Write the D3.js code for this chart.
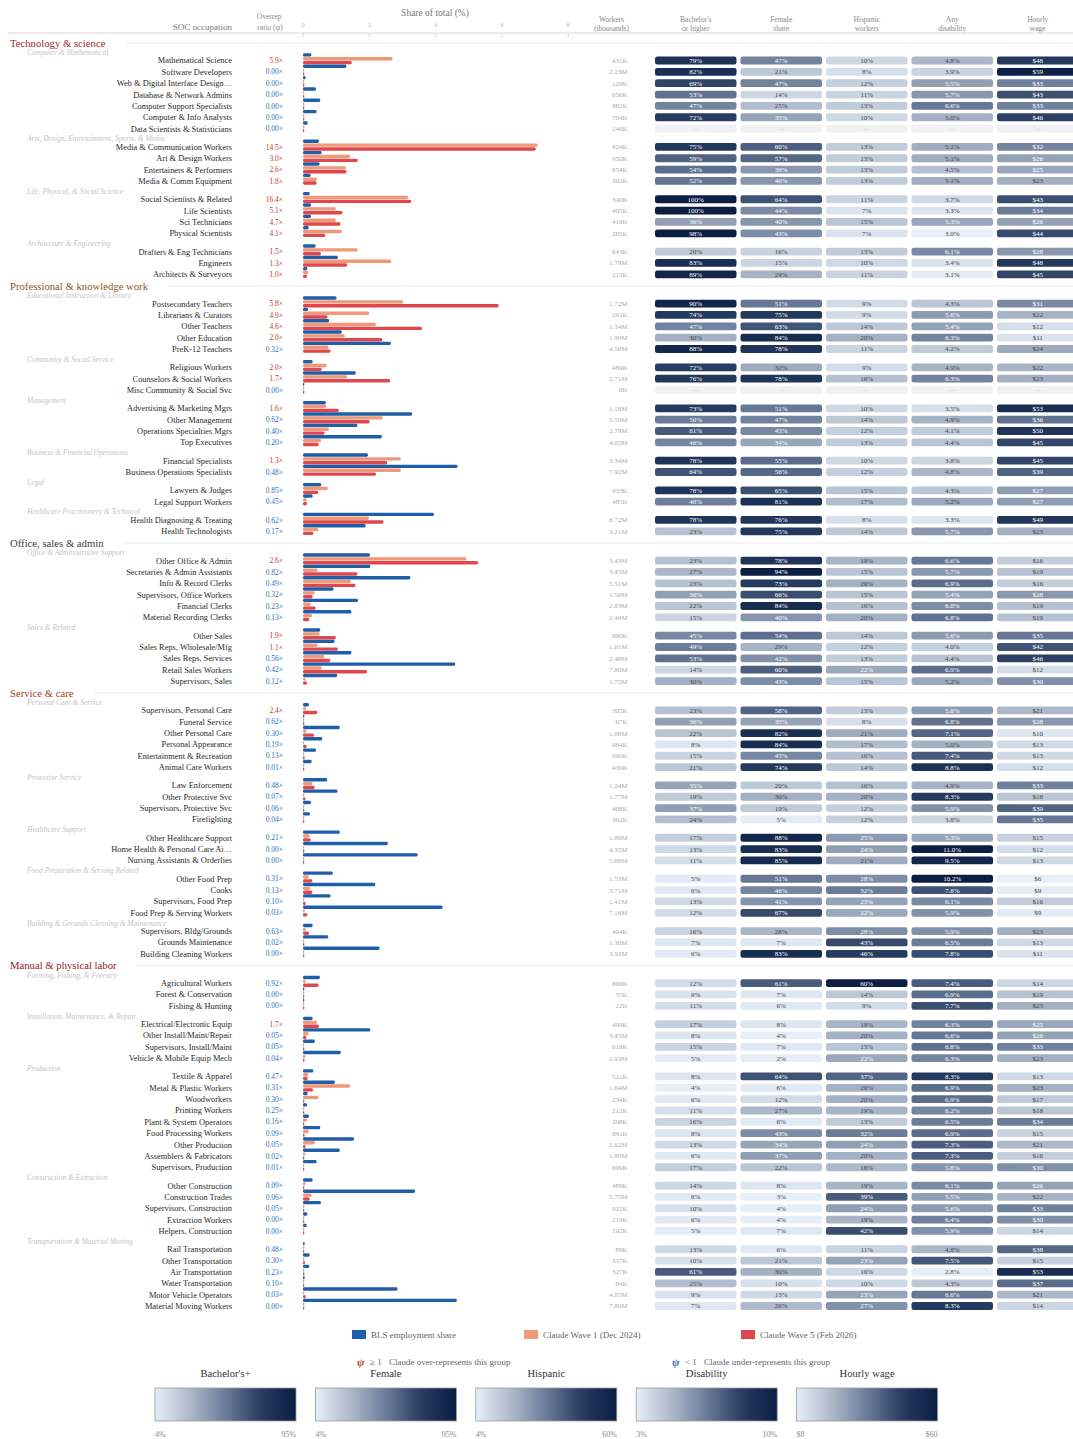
<!DOCTYPE html>
<html>
<head>
<meta charset="utf-8">
<script src="https://cdn.jsdelivr.net/npm/d3@7"></script>
<style>
    body { margin: 0; background: #fff; }
    svg { display: block; font-family: "Liberation Serif", "Times New Roman", serif; }
</style>
</head>
<body>
<svg id="chart" width="1073" height="1439"></svg>
<script>
// ---- data -------------------------------------------------------------
var sections = [ "Technology & science", "Professional & knowledge work",
    "Office, sales & admin", "Service & care", "Manual & physical labor" ];

var subgroups = [ "Computer & Mathematical", "Arts, Design, Entertainment, Sports, & Media",
    "Life, Physical, & Social Science", "Architecture & Engineering",
    "Educational Instruction & Library", "Community & Social Service", "Management",
    "Business & Financial Operations", "Legal", "Healthcare Practitioners & Technical",
    "Office & Administrative Support", "Sales & Related",
    "Personal Care & Service", "Protective Service", "Healthcare Support",
    "Food Preparation & Serving Related", "Building & Grounds Cleaning & Maintenance",
    "Farming, Fishing, & Forestry", "Installation, Maintenance, & Repair", "Production",
    "Construction & Extraction", "Transportation & Material Moving" ];
var subgroupSection = [ 0, 0, 0, 0, 1, 1, 1, 1, 1, 1, 2, 2, 3, 3, 3, 3, 3, 4, 4, 4, 4, 4 ];
var subgroupSize = [ 7, 4, 4, 3, 5, 3, 4, 2, 2, 2, 6, 5, 6, 4, 3, 4, 3, 3, 4, 9, 5, 6 ];

var occupations = [
    "Mathematical Science", "Software Developers", "Web & Digital Interface Design\u2026",
    "Database & Network Admins", "Computer Support Specialists", "Computer & Info Analysts",
    "Data Scientists & Statisticians",
    "Media & Communication Workers", "Art & Design Workers", "Entertainers & Performers", "Media & Comm Equipment",
    "Social Scientists & Related", "Life Scientists", "Sci Technicians", "Physical Scientists",
    "Drafters & Eng Technicians", "Engineers", "Architects & Surveyors",
    "Postsecondary Teachers", "Librarians & Curators", "Other Teachers", "Other Education", "PreK-12 Teachers",
    "Religious Workers", "Counselors & Social Workers", "Misc Community & Social Svc",
    "Advertising & Marketing Mgrs", "Other Management", "Operations Specialties Mgrs", "Top Executives",
    "Financial Specialists", "Business Operations Specialists",
    "Lawyers & Judges", "Legal Support Workers",
    "Health Diagnosing & Treating", "Health Technologists",
    "Other Office & Admin", "Secretaries & Admin Assistants", "Info & Record Clerks",
    "Supervisors, Office Workers", "Financial Clerks", "Material Recording Clerks",
    "Other Sales", "Sales Reps, Wholesale/Mfg", "Sales Reps, Services", "Retail Sales Workers", "Supervisors, Sales",
    "Supervisors, Personal Care", "Funeral Service", "Other Personal Care", "Personal Appearance",
    "Entertainment & Recreation", "Animal Care Workers",
    "Law Enforcement", "Other Protective Svc", "Supervisors, Protective Svc", "Firefighting",
    "Other Healthcare Support", "Home Health & Personal Care Ai\u2026", "Nursing Assistants & Orderlies",
    "Other Food Prep", "Cooks", "Supervisors, Food Prep", "Food Prep & Serving Workers",
    "Supervisors, Bldg/Grounds", "Grounds Maintenance", "Building Cleaning Workers",
    "Agricultural Workers", "Forest & Conservation", "Fishing & Hunting",
    "Electrical/Electronic Equip", "Other Install/Maint/Repair", "Supervisors, Install/Maint", "Vehicle & Mobile Equip Mech",
    "Textile & Apparel", "Metal & Plastic Workers", "Woodworkers", "Printing Workers", "Plant & System Operators",
    "Food Processing Workers", "Other Production", "Assemblers & Fabricators", "Supervisors, Production",
    "Other Construction", "Construction Trades", "Supervisors, Construction", "Extraction Workers", "Helpers, Construction",
    "Rail Transportation", "Other Transportation", "Air Transportation", "Water Transportation",
    "Motor Vehicle Operators", "Material Moving Workers" ];

var ratio = [ 5.9, 0, 0, 0, 0, 0, 0,  14.5, 3.0, 2.6, 1.8,  16.4, 5.1, 4.7, 4.1,  1.5, 1.3, 1.0,
    5.8, 4.9, 4.6, 2.0, 0.32,  2.0, 1.7, 0,  1.6, 0.62, 0.40, 0.20,  1.3, 0.48,  0.85, 0.45,  0.62, 0.17,
    2.6, 0.82, 0.49, 0.32, 0.23, 0.13,  1.9, 1.1, 0.56, 0.42, 0.12,
    2.4, 0.62, 0.30, 0.19, 0.13, 0.01,  0.48, 0.07, 0.06, 0.04,  0.21, 0, 0,  0.31, 0.13, 0.10, 0.03,  0.63, 0.02, 0,
    0.92, 0, 0,  1.7, 0.05, 0.05, 0.04,  0.47, 0.31, 0.30, 0.25, 0.16, 0.09, 0.05, 0.02, 0.01,
    0.09, 0.06, 0.05, 0, 0,  0.48, 0.30, 0.23, 0.10, 0.03, 0 ];

var workers = [ "431K", "2.23M", "129K", "656K", "882K", "704K", "246K",  "824K", "950K", "854K", "392K",
    "340K", "405K", "416K", "285K",  "643K", "1.79M", "215K",
    "1.72M", "261K", "1.34M", "1.99M", "4.50M",  "489K", "2.71M", "0K",  "1.18M", "5.59M", "2.79M", "4.05M",
    "3.34M", "7.92M",  "933K", "485K",  "6.72M", "3.21M",
    "3.43M", "3.45M", "5.51M", "1.56M", "2.83M", "2.49M",  "890K", "1.61M", "2.48M", "7.80M", "1.75M",
    "305K", "67K", "1.88M", "984K", "660K", "439K",  "1.24M", "1.77M", "408K", "362K",  "1.89M", "4.35M", "5.88M",
    "1.53M", "3.71M", "1.41M", "7.16M",  "494K", "1.30M", "3.92M",
    "866K", "55K", "22K",  "499K", "3.45M", "618K", "1.93M",
    "521K", "1.64M", "234K", "212K", "298K", "891K", "2.62M", "1.89M", "699K",
    "489K", "5.75M", "922K", "219K", "192K",  "89K", "337K", "327K", "84K", "4.85M", "7.89M" ];

var bachelors = [ 79, 82, 69, 53, 47, 72, null,  75, 59, 54, 52,  100, 100, 36, 98,  20, 83, 89,
    90, 74, 47, 30, 88,  72, 76, null,  73, 50, 61, 46,  78, 64,  78, 48,  78, 23,
    23, 27, 23, 36, 22, 15,  45, 49, 53, 14, 30,
    23, 36, 22, 8, 15, 21,  35, 19, 37, 24,  17, 13, 11,  5, 6, 13, 12,  16, 7, 6,
    12, 9, 11,  17, 8, 15, 5,  8, 4, 6, 11, 16, 8, 13, 6, 17,  14, 6, 10, 6, 5,  13, 10, 61, 25, 9, 7 ];
var female = [ 47, 21, 47, 14, 25, 35, null,  60, 57, 39, 40,  64, 44, 40, 43,  16, 15, 29,
    51, 75, 63, 84, 78,  32, 78, null,  51, 47, 45, 34,  55, 56,  65, 81,  76, 75,
    78, 94, 73, 66, 84, 40,  54, 29, 42, 60, 43,
    58, 35, 82, 84, 45, 74,  20, 30, 19, 5,  88, 83, 85,  51, 46, 41, 67,  28, 7, 83,
    61, 7, 6,  8, 4, 7, 2,  64, 6, 12, 27, 6, 43, 34, 37, 22,  8, 3, 4, 4, 7,  6, 21, 30, 10, 13, 26 ];
var hispanic = [ 10, 8, 12, 11, 13, 10, null,  13, 13, 13, 13,  11, 7, 15, 7,  13, 10, 11,
    9, 9, 14, 20, 11,  9, 16, null,  10, 14, 12, 13,  10, 12,  15, 17,  8, 14,
    19, 15, 20, 15, 16, 20,  14, 12, 13, 22, 15,
    13, 8, 21, 17, 16, 14,  16, 20, 12, 12,  25, 24, 21,  28, 32, 23, 22,  28, 43, 46,
    60, 14, 9,  19, 20, 15, 22,  37, 20, 20, 19, 13, 32, 24, 20, 18,  19, 39, 24, 19, 42,  11, 23, 10, 10, 23, 27 ];
var disability = [ 4.8, 3.9, 5.5, 5.7, 6.6, 5.0, null,  5.1, 5.1, 4.5, 5.1,  3.7, 3.3, 5.3, 3.0,  6.1, 3.4, 3.1,
    4.3, 5.6, 5.4, 6.3, 4.2,  4.9, 6.3, null,  3.5, 4.9, 4.1, 4.4,  3.8, 4.8,  4.3, 5.2,  3.3, 5.7,
    6.6, 5.7, 6.9, 5.4, 6.0, 6.8,  5.6, 4.0, 4.4, 6.9, 5.2,
    5.6, 6.8, 7.1, 5.0, 7.4, 8.8,  4.9, 8.3, 5.9, 3.8,  5.3, 11.0, 9.5,  10.2, 7.6, 6.1, 5.9,  5.9, 6.5, 7.8,
    7.4, 6.9, 7.7,  6.3, 6.6, 6.8, 6.3,  8.3, 6.9, 6.9, 6.2, 6.5, 6.9, 7.3, 7.3, 5.8,
    6.1, 5.5, 5.6, 6.4, 5.9,  4.8, 7.5, 2.8, 4.3, 6.6, 8.3 ];
var wage = [ 48, 59, 33, 43, 33, 46, null,  32, 26, 25, 23,  43, 34, 26, 44,  28, 48, 45,
    31, 22, 12, 11, 24,  22, 23, null,  53, 36, 50, 45,  45, 39,  27, 27,  49, 23,
    16, 19, 16, 28, 19, 19,  35, 42, 46, 12, 30,
    21, 28, 10, 13, 13, 12,  33, 18, 39, 35,  15, 12, 13,  6, 9, 16, 9,  23, 13, 11,
    14, 19, 23,  25, 26, 33, 23,  13, 23, 17, 18, 34, 15, 21, 16, 30,  26, 22, 33, 30, 14,  38, 15, 53, 37, 21, 14 ];

// share of total (%) for BLS employment and the two Claude waves
var blsShare = [ 0.25, 1.31, 0.08, 0.39, 0.52, 0.41, 0.14,  0.48, 0.56, 0.50, 0.23,  0.20, 0.24, 0.24, 0.17,
    0.38, 1.05, 0.13,
    1.01, 0.15, 0.79, 1.17, 2.65,  0.29, 1.59, 0.02,  0.69, 3.29, 1.64, 2.38,  1.96, 4.66,  0.55, 0.29,
    3.95, 1.89,
    2.02, 2.03, 3.24, 0.92, 1.66, 1.46,  0.52, 0.95, 1.46, 4.59, 1.03,
    0.18, 0.04, 1.11, 0.58, 0.39, 0.26,  0.73, 1.04, 0.24, 0.21,  1.11, 2.56, 3.46,  0.90, 2.18, 0.83, 4.21,
    0.29, 0.76, 2.31,
    0.51, 0.03, 0.013,  0.29, 2.03, 0.36, 1.14,  0.31, 0.96, 0.14, 0.12, 0.18, 0.52, 1.54, 1.11, 0.41,
    0.29, 3.38, 0.54, 0.13, 0.11,  0.05, 0.20, 0.19, 0.05, 2.85, 4.64 ];
var wave1Share = [ 2.70, 0.02, 0, 0, 0, 0, 0,  7.08, 1.42, 1.29, 0.42,  3.17, 0.99, 0.99, 1.17,  1.65, 2.66, 0.16,
    3.02, 2.00, 2.20, 1.26, 0.77,  0.71, 1.33, 0,  0.70, 2.40, 0.78, 0.54,  2.95, 2.95,  0.75, 0.11,  1.99, 0.46,
    4.92, 0.44, 1.44, 0.35, 0.23, 0.27,  0.50, 0.44, 0.64, 0.56, 0.08,
    0.09, 0.01, 0.10, 0.04, 0.02, 0,  0.28, 0.02, 0.01, 0,  0.20, 0, 0,  0.17, 0.21, 0.02, 0.05,  0.08, 0, 0,
    0.08, 0, 0,  0.42, 0.17, 0, 0.07,  0.16, 1.42, 0.47, 0.02, 0.12, 0.17, 0.36, 0.07, 0,
    0.07, 0.26, 0, 0, 0,  0, 0.02, 0, 0, 0.03, 0 ];
var wave5Share = [ 1.47, 0, 0, 0, 0, 0, 0,  7.02, 1.65, 1.31, 0.41,  3.26, 1.19, 1.13, 0.67,  0.54, 1.33, 0.12,
    5.90, 0.74, 3.59, 2.39, 0.83,  0.56, 2.63, 0,  1.08, 2.01, 0.65, 0.47,  2.54, 2.20,  0.46, 0.12,  2.43, 0.31,
    5.28, 1.64, 1.58, 0.29, 0.38, 0.19,  0.99, 1.05, 0.82, 1.93, 0.12,
    0.43, 0.025, 0.33, 0.11, 0.05, 0.003,  0.35, 0.07, 0.014, 0.009,  0.23, 0, 0,  0.28, 0.28, 0.08, 0.13,
    0.18, 0.015, 0,
    0.47, 0, 0,  0.48, 0.10, 0.018, 0.045,  0.14, 0.30, 0.04, 0.03, 0.028, 0.047, 0.077, 0.022, 0.004,
    0.026, 0.20, 0.027, 0, 0,  0.025, 0.06, 0.044, 0.005, 0.085, 0 ];

var shareTicks = [ 0, 2, 4, 6, 8 ];
var metricHeads = [ [ "Bachelor's", "or higher" ], [ "Female", "share" ], [ "Hispanic", "workers" ],
    [ "Any", "disability" ], [ "Hourly", "wage" ] ];
var legendTitles = [ "Bachelor's+", "Female", "Hispanic", "Disability", "Hourly wage" ];
var legendDomains = [ [ 4, 95 ], [ 4, 95 ], [ 4, 60 ], [ 3, 10 ], [ 8, 60 ] ];
var legendLabels = [ [ "4%", "95%" ], [ "4%", "95%" ], [ "4%", "60%" ], [ "3%", "10%" ], [ "$8", "$60" ] ];
var seriesNames = [ "BLS employment share", "Claude Wave 1 (Dec 2024)", "Claude Wave 5 (Feb 2026)" ];

// ---- styles -------------------------------------------------------------
var sectionColors = [ "#a3262d", "#8c5a1c", "#3c3c3c", "#9c3f20", "#8b1c26" ];
var seriesColors = [ "#1f5ea8", "#f0987a", "#e0474c" ];
var overColor = "#c0392b", underColor = "#2f6db5";
var ramp = d3.scaleLinear()
    .domain( [ 0, 0.25, 0.5, 0.75, 1 ] )
    .range( [ "#e6eef8", "#adb9ca", "#6b7c99", "#263b60", "#0b1f45" ] )
    .clamp( true );

var svg = d3.select( "#chart" );

// ---- vertical layout: titles, subgroup labels, rows ----------------------
var ROW = 11.35;
var rows = [], subLabels = [], titles = [];
var y = 43, occ = 0, prevSec = -1;
subgroups.forEach( function ( name, g ) {
    var s = subgroupSection[ g ];
    if ( s !== prevSec ) {
        if ( prevSec >= 0 ) y += 11.8;
        titles.push({ name: sections[ s ], s: s, y: y });
        y += 9.4;
        prevSec = s;
    } else {
        y += 10.2;
    }
    subLabels.push({ name: name, y: y });
    y += 8.1;
    for ( var k = 0; k < subgroupSize[ g ]; k += 1 ) {
        if ( k > 0 ) y += ROW;
        rows.push({ i: occ, y: y });
        occ += 1;
    }
});

var x = d3.scaleLinear().domain( [ 0, 8 ] ).range( [ 303, 568.2 ] );

// ---- header ---------------------------------------------------------------
var head = svg.append( "g" ).attr( "fill", "#888" );
head.append( "text" ).attr( "x", 232 ).attr( "y", 27 ).attr( "dy", "0.35em" )
    .attr( "text-anchor", "end" ).attr( "font-size", 9 ).attr( "fill", "#777" )
    .text( "SOC occupation" );
head.append( "text" ).attr( "x", 270 ).attr( "y", 16 ).attr( "dy", "0.35em" )
    .attr( "text-anchor", "middle" ).attr( "font-size", 7.5 ).text( "Overrep." );
head.append( "text" ).attr( "x", 270 ).attr( "y", 27.5 ).attr( "dy", "0.35em" )
    .attr( "text-anchor", "middle" ).attr( "font-size", 7.5 ).text( "ratio (\u03c8)" );
head.append( "text" ).attr( "x", 435 ).attr( "y", 12.5 ).attr( "dy", "0.35em" )
    .attr( "text-anchor", "middle" ).attr( "font-size", 9.5 ).attr( "fill", "#777" )
    .text( "Share of total (%)" );
head.selectAll( "text.tick" ).data( shareTicks ).enter().append( "text" )
    .attr( "class", "tick" )
    .attr( "x", function ( d ) { return x( d ) } ).attr( "y", 24.5 ).attr( "dy", "0.35em" )
    .attr( "text-anchor", "middle" ).attr( "font-size", 6.5 ).attr( "fill", "#bbb" )
    .text( function ( d ) { return d } );
head.selectAll( "line.tick" ).data( shareTicks ).enter().append( "line" )
    .attr( "class", "tick" )
    .attr( "x1", function ( d ) { return x( d ) } ).attr( "x2", function ( d ) { return x( d ) } )
    .attr( "y1", 33 ).attr( "y2", 37 ).attr( "stroke", "#d4d4d4" );
head.append( "text" ).attr( "x", 611.5 ).attr( "y", 19.3 ).attr( "dy", "0.35em" )
    .attr( "text-anchor", "middle" ).attr( "font-size", 7.5 ).text( "Workers" );
head.append( "text" ).attr( "x", 611.5 ).attr( "y", 28.3 ).attr( "dy", "0.35em" )
    .attr( "text-anchor", "middle" ).attr( "font-size", 7.5 ).text( "(thousands)" );

var colX = [ 655, 740.5, 826, 911.5, 997 ], colW = 81.5;
metricHeads.forEach( function ( h, c ) {
    h.forEach( function ( line, j ) {
        head.append( "text" ).attr( "x", colX[ c ] + colW / 2 ).attr( "y", 19.3 + j * 9 )
            .attr( "dy", "0.35em" ).attr( "text-anchor", "middle" ).attr( "font-size", 7.5 )
            .text( line );
    });
});
svg.append( "line" ).attr( "x1", 8 ).attr( "x2", 1073 ).attr( "y1", 33 ).attr( "y2", 33 )
    .attr( "stroke", "#d8d8d8" );

// ---- section titles and subgroup labels -----------------------------------
titles.forEach( function ( t ) {
    var txt = svg.append( "text" ).attr( "x", 10 ).attr( "y", t.y ).attr( "dy", "0.35em" )
        .attr( "font-size", 10.7 ).attr( "fill", sectionColors[ t.s ] ).text( t.name );
    var w = txt.node().getComputedTextLength();
    svg.append( "line" ).attr( "x1", 10 + w + 20 ).attr( "x2", 1073 )
        .attr( "y1", t.y ).attr( "y2", t.y ).attr( "stroke", "#ebebeb" );
});
svg.selectAll( "text.sub" ).data( subLabels ).enter().append( "text" )
    .attr( "class", "sub" )
    .attr( "x", 27 ).attr( "y", function ( d ) { return d.y } ).attr( "dy", "0.35em" )
    .attr( "font-size", 7.5 ).attr( "font-style", "italic" ).attr( "fill", "#c4c4c4" )
    .text( function ( d ) { return d.name } );

// ---- rows -----------------------------------------------------------------
var row = svg.selectAll( "g.row" ).data( rows ).enter().append( "g" )
    .attr( "class", "row" )
    .attr( "transform", function ( d ) { return "translate(0," + d.y + ")" } );

row.append( "text" ).attr( "x", 232 ).attr( "dy", "0.35em" ).attr( "text-anchor", "end" )
    .attr( "font-size", 8.4 ).attr( "fill", "#2a2a2a" )
    .text( function ( d ) { return occupations[ d.i ] } );

row.append( "text" ).attr( "x", 283 ).attr( "dy", "0.35em" ).attr( "text-anchor", "end" )
    .attr( "font-size", 7.5 )
    .attr( "fill", function ( d ) { return ratio[ d.i ] >= 1 ? overColor : underColor } )
    .text( function ( d ) {
        var r = ratio[ d.i ];
        return ( r >= 1 ? r.toFixed( 1 ) : r.toFixed( 2 ) ) + "\u00d7";
    });

// three stacked bars per row: BLS, wave 1, wave 5
var shares = [ blsShare, wave1Share, wave5Share ];
var barOff = [ -7.3, -3.45, 0.4 ];
shares.forEach( function ( arr, k ) {
    row.append( "rect" )
        .attr( "x", x( 0 ) )
        .attr( "y", barOff[ k ] )
        .attr( "height", 3.4 )
        .attr( "rx", 1.4 )
        .attr( "width", function ( d ) { return Math.max( 1.3, x( arr[ d.i ] ) - x( 0 ) ) } )
        .attr( "fill", seriesColors[ k ] );
});

row.append( "text" ).attr( "x", 627.5 ).attr( "dy", "0.35em" ).attr( "text-anchor", "end" )
    .attr( "font-size", 7 ).attr( "fill", "#aaa" )
    .text( function ( d ) { return workers[ d.i ] } );

// metric cells
var metrics = [ bachelors, female, hispanic, disability, wage ];
var formats = [
    function ( v ) { return v + "%" },
    function ( v ) { return v + "%" },
    function ( v ) { return v + "%" },
    function ( v ) { return v.toFixed( 1 ) + "%" },
    function ( v ) { return "$" + v }
];
metrics.forEach( function ( arr, c ) {
    var t = d3.scaleLinear().domain( legendDomains[ c ] ).range( [ 0, 1 ] ).clamp( true );
    var cell = row.append( "g" ).attr( "transform", "translate(" + colX[ c ] + ",0)" );
    cell.append( "rect" )
        .attr( "y", -3.9 ).attr( "width", colW ).attr( "height", 7.8 ).attr( "rx", 2.2 )
        .attr( "fill", function ( d ) {
            var v = arr[ d.i ];
            return v == null ? "#f1f1f1" : ramp( t( v ) );
        });
    cell.append( "text" )
        .attr( "x", colW / 2 ).attr( "dy", "0.35em" ).attr( "text-anchor", "middle" )
        .attr( "font-size", 7 )
        .attr( "fill", function ( d ) {
            var v = arr[ d.i ];
            if ( v == null ) return "#c8c8c8";
            return t( v ) > 0.32 ? "#fff" : "#444";
        })
        .text( function ( d ) {
            var v = arr[ d.i ];
            return v == null ? "\u2014" : formats[ c ]( v );
        });
});

// ---- legend ---------------------------------------------------------------
var legX = [ 352, 524, 741 ];
seriesNames.forEach( function ( name, k ) {
    svg.append( "rect" ).attr( "x", legX[ k ] ).attr( "y", 1330 ).attr( "width", 14 )
        .attr( "height", 9 ).attr( "fill", seriesColors[ k ] );
    svg.append( "text" ).attr( "x", legX[ k ] + 19 ).attr( "y", 1334.5 ).attr( "dy", "0.35em" )
        .attr( "font-size", 9 ).attr( "fill", "#666" ).text( name );
});

var psi = [
    { x: 357, c: overColor, sym: "\u2265 1", txt: "Claude over-represents this group" },
    { x: 672, c: underColor, sym: "< 1", txt: "Claude under-represents this group" }
];
psi.forEach( function ( p ) {
    svg.append( "text" ).attr( "x", p.x ).attr( "y", 1362 ).attr( "dy", "0.35em" )
        .attr( "font-size", 11 ).attr( "font-style", "italic" ).attr( "font-weight", "bold" )
        .attr( "fill", p.c ).text( "\u03c8" );
    svg.append( "text" ).attr( "x", p.x + 13 ).attr( "y", 1362 ).attr( "dy", "0.35em" )
        .attr( "font-size", 9 ).attr( "fill", "#666" ).text( p.sym );
    svg.append( "text" ).attr( "x", p.x + 32 ).attr( "y", 1362 ).attr( "dy", "0.35em" )
        .attr( "font-size", 9 ).attr( "fill", "#666" ).text( p.txt );
});

var grad = svg.append( "defs" ).append( "linearGradient" ).attr( "id", "ramp" );
d3.range( 0, 1.0001, 0.1 ).forEach( function ( s ) {
    grad.append( "stop" ).attr( "offset", s ).attr( "stop-color", ramp( s ) );
});

legendTitles.forEach( function ( title, c ) {
    var lx = 155 + c * 160.4, lw = 141;
    svg.append( "text" ).attr( "x", lx + lw / 2 ).attr( "y", 1373 ).attr( "dy", "0.35em" )
        .attr( "text-anchor", "middle" ).attr( "font-size", 10.6 ).attr( "fill", "#333" ).text( title );
    svg.append( "rect" ).attr( "x", lx ).attr( "y", 1388 ).attr( "width", lw ).attr( "height", 33 )
        .attr( "fill", "url(#ramp)" ).attr( "stroke", "#999" ).attr( "stroke-width", 0.8 );
    svg.append( "text" ).attr( "x", lx ).attr( "y", 1434 ).attr( "dy", "0.35em" )
        .attr( "font-size", 8 ).attr( "fill", "#888" ).text( legendLabels[ c ][ 0 ] );
    svg.append( "text" ).attr( "x", lx + lw ).attr( "y", 1434 ).attr( "dy", "0.35em" )
        .attr( "text-anchor", "end" ).attr( "font-size", 8 ).attr( "fill", "#888" ).text( legendLabels[ c ][ 1 ] );
});
</script>
</body>
</html>
